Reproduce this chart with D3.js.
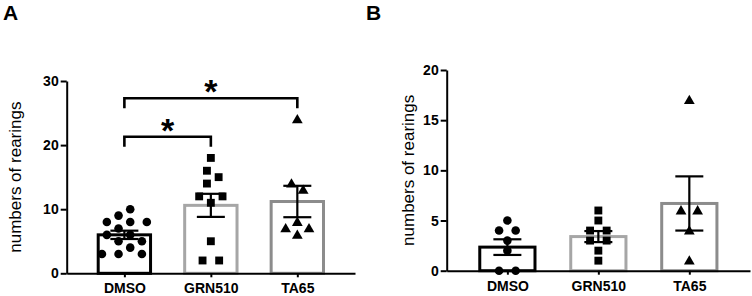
<!DOCTYPE html>
<html>
<head>
<meta charset="utf-8">
<script src="https://cdn.jsdelivr.net/npm/d3@7"></script>
<style>
  html, body { margin: 0; padding: 0; background: #fff; }
  svg { display: block; font-family: "Liberation Sans", Arial, sans-serif; }
</style>
</head>
<body>
<svg id="chart" width="752" height="296"></svg>
<script>
// ---------------- DATA ----------------
const categories = ["DMSO", "GRN510", "TA65"];

// Panel A – individual values
const aDMSO   = [10, 9, 8, 8, 8, 7, 6, 6, 5, 5, 4, 3, 3, 3];
const aGRN510 = [18, 16, 15, 14, 12, 12, 11, 5, 2, 2];
const aTA65   = [24, 14, 13, 8, 7, 7, 6];
const aMeans  = [6.0, 10.6, 11.2];
const aSEM    = [0.65, 1.8, 2.45];
const aTicks  = [0, 10, 20, 30];

// Panel B – individual values
const bDMSO   = [5, 4, 4, 3, 2, 0, 0];
const bGRN510 = [6, 5, 4, 4, 3, 3, 2, 1];
const bTA65   = [17, 6, 6, 4, 1];
const bMeans  = [2.35, 3.4, 6.7];
const bSEM    = [0.78, 0.55, 2.7];
const bTicks  = [0, 5, 10, 15, 20];

// Significance (panel A)
const sigFrom  = ["DMSO", "DMSO"];
const sigTo    = ["GRN510", "TA65"];
const sigLevel = [21.3, 27.3];
const sigLabel = ["*", "*"];

const yTitle = "numbers of rearings";

// ---------------- DRAW ----------------
const svg = d3.select("#chart");
const FONT = '"Liberation Sans", Arial, sans-serif';
const barColors = ["#000000", "#a6a6a6", "#8c8c8c"];
const markers = [d3.symbolCircle, d3.symbolSquare, d3.symbolTriangle];
const markerArea = [58, 62, 50];

// beeswarm: y fixed, x relaxed with collision in an anisotropic space
function swarm(vals, y) {
  const R = 8.3, S = 1.84;
  const counts = new Map();
  const nodes = vals.map(v => {
    const c = counts.get(v) || 0; counts.set(v, c + 1);
    return {v, k: c};
  });
  nodes.forEach(n => {
    const tot = counts.get(n.v);
    n.x = (n.k - (tot - 1) / 2) * 2 * R;
    n.fy = y(n.v) * S;
    n.y = n.fy;
  });
  const sim = d3.forceSimulation(nodes)
    .force("x", d3.forceX(0).strength(0.06))
    .force("c", d3.forceCollide(R).iterations(4))
    .stop();
  for (let i = 0; i < 400; i++) sim.tick();
  return nodes.map(n => ({v: n.v, dx: n.x}));
}

function panel(opts) {
  const {x0, x1, yTop, yBot, domainMax, ticks, groups, means, sems, letter, letterX, titleX} = opts;
  const g = svg.append("g");
  const x = d3.scalePoint().domain(categories).range([x0, x1]).padding(0.667);
  const y = d3.scaleLinear().domain([0, domainMax]).range([yBot, yTop]);
  const step = x.step();
  const bw = step * 0.64 - 3;

  // bars
  g.selectAll("rect.bar").data(categories).join("rect")
    .attr("class", "bar")
    .attr("x", d => x(d) - bw / 2)
    .attr("y", (d, i) => y(means[i]))
    .attr("width", bw)
    .attr("height", (d, i) => y(0) - y(means[i]))
    .attr("fill", "#fff")
    .attr("stroke", (d, i) => barColors[i])
    .attr("stroke-width", 3);

  // points
  categories.forEach((c, i) => {
    const pts = swarm(groups[i], y);
    g.selectAll(null).data(pts).join("path")
      .attr("d", d3.symbol().type(markers[i]).size(markerArea[i]))
      .attr("transform", d => `translate(${x(c) + d.dx},${y(d.v) + (i === 2 ? 0.8 : 0)})`)
      .attr("fill", "#000");
  });

  // error bars
  const cap = 14;
  categories.forEach((c, i) => {
    const cx = x(c), lo = y(means[i] - sems[i]), hi = y(means[i] + sems[i]);
    const eg = g.append("g").attr("stroke", "#000").attr("stroke-width", 2.2);
    eg.append("line").attr("x1", cx).attr("x2", cx).attr("y1", lo).attr("y2", hi);
    eg.append("line").attr("x1", cx - cap).attr("x2", cx + cap).attr("y1", lo).attr("y2", lo);
    eg.append("line").attr("x1", cx - cap).attr("x2", cx + cap).attr("y1", hi).attr("y2", hi);
  });

  // axes
  const ya = g.append("g").attr("transform", `translate(${x0},0)`)
    .call(d3.axisLeft(y).tickValues(ticks).tickSize(6).tickPadding(2).tickSizeOuter(0));
  ya.select(".domain").attr("stroke-width", 2);
  ya.selectAll(".tick line").attr("stroke-width", 2);
  ya.selectAll("text").attr("font-family", FONT).attr("font-weight", "bold")
    .attr("font-size", 14).attr("fill", "#000");

  const xa = g.append("g").attr("transform", `translate(0,${yBot})`)
    .call(d3.axisBottom(x).tickSize(4).tickPadding(6).tickSizeOuter(0));
  xa.select(".domain").attr("stroke-width", 2);
  xa.selectAll(".tick line").attr("stroke-width", 2);
  xa.selectAll("text").attr("font-family", FONT).attr("font-weight", "bold")
    .attr("font-size", 14).attr("fill", "#000");

  // title
  g.append("text")
    .attr("transform", `translate(${titleX},${(yTop + yBot) / 2}) rotate(-90)`)
    .attr("text-anchor", "middle")
    .attr("font-family", FONT).attr("font-size", 17).attr("fill", "#000")
    .text(yTitle);

  // panel letter
  svg.append("text").attr("x", letterX).attr("y", 20)
    .attr("font-family", FONT).attr("font-weight", "bold").attr("font-size", 21)
    .text(letter);

  return {g, x, y};
}

const A = panel({
  x0: 66.7, x1: 355, yTop: 81, yBot: 273.3, domainMax: 30, ticks: aTicks,
  groups: [aDMSO, aGRN510, aTA65], means: aMeans, sems: aSEM,
  letter: "A", letterX: 3, titleX: 20.5
});
const B = panel({
  x0: 446.7, x1: 750, yTop: 70, yBot: 270.7, domainMax: 20, ticks: bTicks,
  groups: [bDMSO, bGRN510, bTA65], means: bMeans, sems: bSEM,
  letter: "B", letterX: 366, titleX: 413.7
});

// significance brackets (panel A)
sigFrom.forEach((f, i) => {
  const xa1 = A.x(f), xa2 = A.x(sigTo[i]), yy = A.y(sigLevel[i]);
  A.g.append("path")
    .attr("d", `M${xa1},${yy + 10}V${yy}H${xa2}V${yy + 10}`)
    .attr("fill", "none").attr("stroke", "#000").attr("stroke-width", 2.6);
  A.g.append("text")
    .attr("x", (xa1 + xa2) / 2).attr("y", yy + 5)
    .attr("text-anchor", "middle")
    .attr("font-family", FONT).attr("font-weight", "bold").attr("font-size", 34)
    .text(sigLabel[i]);
});
</script>
</body>
</html>
